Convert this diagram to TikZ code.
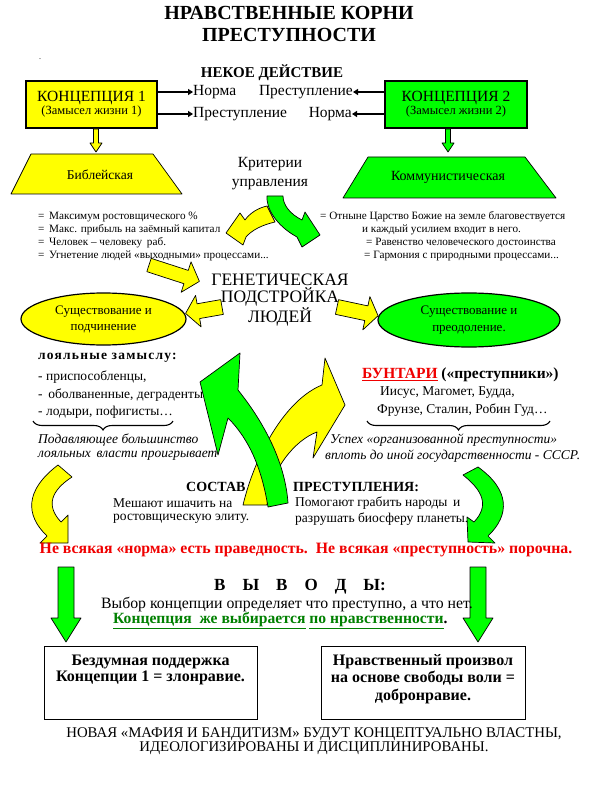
\documentclass[tikz,border=0pt]{standalone}
\usepackage{fontspec}
\setmainfont{Liberation Serif}
\usetikzlibrary{shapes.geometric,arrows.meta,decorations.pathreplacing}
\definecolor{yel}{HTML}{FFFF00}
\definecolor{grn}{HTML}{00FF00}
\definecolor{dgrn}{HTML}{008000}
\definecolor{rd}{HTML}{F00000}
\newcommand\fsz[2]{\fontsize{#1}{#2}\selectfont}
\newcommand\vblk[7]{\filldraw[blk,fill=#1] ({#2-#4},#3) -- ({#2+#4},#3) -- ({#2+#4},#6) -- ({#2+#5},#6) -- (#2,#7) -- ({#2-#5},#6) -- ({#2-#4},#6) -- cycle;}
\newcommand\hblk[8]{\filldraw[blk,fill=#1,shift={(#2,#3)},rotate=#4] (0,-#7) -- ({#5-#6},-#7) -- ({#5-#6},-#8) -- (#5,0) -- ({#5-#6},#8) -- ({#5-#6},#7) -- (0,#7) -- cycle;}
\newcommand\gp{\hspace{17pt}}
\begin{document}
\begin{tikzpicture}[x=1pt,y=-1pt,
  every node/.style={inner sep=0pt},
  blk/.style={draw=black,line width=0.7pt,line join=round},
  arr/.style={line width=1.4pt,-{Triangle[length=5pt,width=6pt]}},
  conbox/.style={draw=black,line width=2.6pt,minimum width=131pt,minimum height=47pt,align=center},
  outbox/.style={draw=black,line width=0.9pt,minimum height=73pt},
  lst/.style={anchor=west,font=\fsz{11.2}{13}},
  txt/.style={anchor=west,font=\fsz{13.5}{16}},
  it/.style={anchor=west,font=\fsz{13.5}{16}\itshape},
  bld/.style={font=\fsz{14}{17}\bfseries},
  brc/.style={decorate,decoration={brace,mirror,amplitude=9pt},line width=1.1pt}]
\useasboundingbox (0,0) rectangle (598,786);
\fill[white] (0,0) rectangle (598,786);

% title
\node[font=\fsz{20}{22}\bfseries,align=center] (title) at (289,24) {НРАВСТВЕННЫЕ КОРНИ\\ПРЕСТУПНОСТИ};
\node[font=\fsz{8}{9}] (dot) at (40,59) {.};
\node[font=\fsz{15}{17}\bfseries] (act) at (272,73) {НЕКОЕ ДЕЙСТВИЕ};

% concept boxes
\node[conbox,fill=yel] (k1) at (91.5,104.5) {\fsz{15.5}{17}КОНЦЕПЦИЯ 1\\[1pt]\fsz{12.5}{13}(Замысел жизни 1)};
\node[conbox,fill=grn,minimum width=142pt] (k2) at (456,104.5) {\fsz{15.5}{17}КОНЦЕПЦИЯ 2\\[1pt]\fsz{12.5}{13}(Замысел жизни 2)};

\node[font=\fsz{15.5}{16},anchor=west] (n1a) at (193,92) {Норма};
\node[font=\fsz{15.5}{16},anchor=east] (n1b) at (353,92) {Преступление};
\node[font=\fsz{15.5}{16},anchor=west] (n2a) at (193,114) {Преступление};
\node[font=\fsz{15.5}{16},anchor=east] (n2b) at (352,114) {Норма};
\draw[arr] (k1.east |- n1a.west) -- (n1a.west);
\draw[arr] (k1.east |- n2a.west) -- (n2a.west);
\draw[arr] (k2.west |- n1b.east) -- (n1b.east);
\draw[arr] (k2.west |- n2b.east) -- (n2b.east);

% small down arrows
\vblk{yel}{96}{129}{2.5}{6}{143}{152}
\vblk{grn}{448}{129}{2.5}{6}{143}{152}

% trapezoids
\filldraw[blk,fill=yel] (31,154) -- (153,154) -- (182,194) -- (11,194) -- cycle;
\node[font=\fsz{13.5}{15}] (bib) at (100,175) {Библейская};
\filldraw[blk,fill=grn] (368,157) -- (525,157) -- (556,198) -- (343,198) -- cycle;
\node[font=\fsz{14}{15}] (kom) at (448,177) {Коммунистическая};

\node[font=\fsz{15.5}{19},align=center] (krit) at (270,174) {Критерии\\управления};

% lists
\node[lst] (l1) at (38,217) {=\, Максимум ростовщического \%};
\node[lst] (l2) at (38,230) {=\, Макс. прибыль на заёмный капитал};
\node[lst] (l3) at (38,243) {=\, Человек -- человеку\, раб.};
\node[lst] (l4) at (38,256) {=\, Угнетение людей «выходными» процессами...};
\node[lst] (r1) at (320,217) {= Отныне Царство Божие на земле благовествуется};
\node[lst] (r2) at (362,230) {и каждый усилием входит в него.};
\node[lst] (r3) at (366,243) {= Равенство человеческого достоинства};
\node[lst] (r4) at (364,256) {= Гармония с природными процессами...};

% criteria arrows
\filldraw[blk,fill=yel] (267,206) .. controls (258,208) and (250,213) .. (245,220) -- (240,213) -- (226,233) -- (243,245) -- (246,237) .. controls (252,230) and (262,225) .. (275,222) -- cycle;
\filldraw[blk,fill=grn] (267,196) .. controls (266,207) and (275,225) .. (297,237) -- (302,247) -- (320,235) -- (305,212) -- (302,220) .. controls (290,214) and (283,205) .. (283,196) -- cycle;

% genetic
\node[font=\fsz{17.5}{17.5},align=center] (gen) at (280,300) {ГЕНЕТИЧЕСКАЯ\\ПОДСТРОЙКА\\ЛЮДЕЙ};
\hblk{yel}{149}{265}{-18}{53}{14}{7}{16}
\hblk{yel}{222}{307}{190}{37}{13}{7.5}{16}
\hblk{yel}{337}{307}{-12}{42}{12}{7.5}{17}

% ellipses
\node[ellipse,draw,line width=1.2pt,fill=yel,minimum width=165pt,minimum height=52pt,align=center,font=\fsz{13}{16}] (e1) at (103.5,319) {Существование и\\подчинение};
\node[ellipse,draw,line width=1.2pt,fill=grn,minimum width=182pt,minimum height=54pt,align=center,font=\fsz{13}{17}] (e2) at (469,320) {Существование и\\преодоление.};

% left column
\node[anchor=west,font=\fsz{13.5}{16}\bfseries\addfontfeature{LetterSpace=9}] (loy) at (38,358) {лояльные замыслу:};
\node[txt] (p1) at (38,377) {- приспособленцы,};
\node[txt] (p2) at (38,395) {-\, оболваненные, деграденты};
\node[txt] (p3) at (38,412) {- лодыри, пофигисты…};
\coordinate (bl1) at (33,421);
\coordinate (bl2) at (173,421);
\draw[brc] (bl1) -- (bl2);
\node[it] (i1) at (38,440) {Подавляющее большинство};
\node[it] (i2) at (38,456) {лояльных\, власти проигрывает};

% right column
\node[anchor=west,font=\fsz{15.5}{17}\bfseries] (bunt) at (362,375) {\textcolor{rd}{\underline{БУНТАРИ}} («преступники»)};
\node[txt] (q1) at (380,393) {Иисус, Магомет, Будда,};
\node[txt] (q2) at (377,410) {Фрунзе, Сталин, Робин Гуд…};
\coordinate (br1) at (367,421);
\coordinate (br2) at (550,421);
\draw[brc] (br1) -- (br2);
\node[it] (j1) at (330,440) {Успех «организованной преступности»};
\node[it] (j2) at (325,456) {вплоть до иной государственности - СССР.};

% composition
\node[bld,anchor=west] (sost) at (186,487) {СОСТАВ};
\node[bld,anchor=west] (prest) at (293,487) {ПРЕСТУПЛЕНИЯ:};
\node[txt] (m1) at (113,503) {Мешают ишачить на};
\node[txt] (m2) at (113,519) {ростовщическую элиту.};
\node[txt] (h1) at (295,503) {Помогают грабить народы\, и};
\node[txt] (h2) at (295,519) {разрушать биосферу планеты.};

% big crossing arrows
\filldraw[blk,fill=yel] (243,505) .. controls (255,455) and (285,400) .. (322,385) -- (325,358) -- (345,405) -- (313,458) -- (317,432) .. controls (295,440) and (270,470) .. (267,505) -- cycle;
\filldraw[blk,fill=grn] (268,507) .. controls (262,470) and (250,440) .. (228,418) -- (218,455) -- (200,382) -- (240,353) -- (238,390) .. controls (262,420) and (285,460) .. (288,503) -- cycle;

% side curved arrows
\filldraw[blk,fill=yel] (58,465) -- (72,477) .. controls (52,490) and (45,505) .. (61,522) -- (68,515) -- (68,543) -- (40,543) -- (47,536) .. controls (25,515) and (25,490) .. (58,465) -- cycle;
\filldraw[blk,fill=grn] (478,467) -- (463,475) .. controls (482,490) and (490,505) .. (474,522) -- (467,517) -- (468,542) -- (495,543) -- (488,536) .. controls (510,515) and (510,490) .. (478,467) -- cycle;

% red statement
\node[font=\fsz{15.8}{16}\bfseries,text=rd] (red) at (306,550) {Не всякая «норма» есть праведность.\ \ Не всякая «преступность» порочна.};

% down arrows
\vblk{grn}{66}{567}{8}{15}{618}{642}
\vblk{grn}{478}{567}{8}{15}{618}{642}

% conclusions
\node[font=\fsz{17}{18}\bfseries] (vyv) at (300,587) {В\gp Ы\gp В\gp О\gp Д\gp Ы:};
\node[font=\fsz{15.8}{16}] (vyb) at (287,605) {Выбор концепции определяет что преступно, а что нет.};
\node[anchor=west,font=\fsz{15.6}{16}\bfseries] (konc) at (113,621) {\textcolor{dgrn}{\underline{Концепция\ \ же выбирается}} \textcolor{dgrn}{\underline{по нравственности}}.};

\node[outbox,minimum width=213pt] (bL) at (150.5,682.5) {};
\node[outbox,minimum width=204pt] (bR) at (423,682.5) {};
\node[font=\fsz{16}{16.5}\bfseries,align=center] (tL) at (150.5,670) {Бездумная поддержка\\Концепции 1 = злонравие.};
\node[font=\fsz{16}{17.5}\bfseries,align=center] (tR) at (423,679) {Нравственный произвол\\на основе свободы воли =\\добронравие.};

\node[font=\fsz{14.8}{14.5},align=center] (maf) at (314,741) {НОВАЯ «МАФИЯ И БАНДИТИЗМ» БУДУТ КОНЦЕПТУАЛЬНО ВЛАСТНЫ,\\ИДЕОЛОГИЗИРОВАНЫ И ДИСЦИПЛИНИРОВАНЫ.};
\end{tikzpicture}
\end{document}
